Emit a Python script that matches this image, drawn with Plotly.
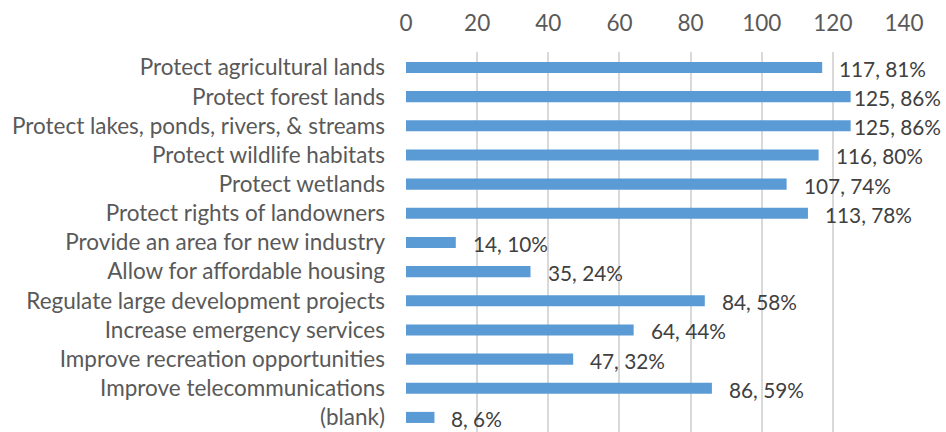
import plotly.graph_objects as go

# Survey responses: count and share of respondents for each goal
categories = [
    "Protect agricultural lands",
    "Protect forest lands",
    "Protect lakes, ponds, rivers, & streams",
    "Protect wildlife habitats",
    "Protect wetlands",
    "Protect rights of landowners",
    "Provide an area for new industry",
    "Allow for affordable housing",
    "Regulate large development projects",
    "Increase emergency services",
    "Improve recreation opportunities",
    "Improve telecommunications",
    "(blank)",
]
counts = [117, 125, 125, 116, 107, 113, 14, 35, 84, 64, 47, 86, 8]
percents = [81, 86, 86, 80, 74, 78, 10, 24, 58, 44, 32, 59, 6]
x_ticks = [0, 20, 40, 60, 80, 100, 120, 140]

FONT = "Lato, Calibri, Carlito, sans-serif"
FS = 22.5
LABEL_FS = 20.8
BAR = "#5B9BD5"
TEXT = "#595959"

W, H = 946, 432
ML, MR, MT = 406, 42, 52
X_MAX = 140
plot_w = W - ML - MR
LABEL_W = 88          # approximate rendered width of a value label, px
LABEL_GAP = 15

fig = go.Figure(
    go.Bar(
        x=counts,
        y=categories,
        orientation="h",
        marker=dict(color=BAR, line=dict(width=0)),
        hoverinfo="skip",
    )
)

# Value labels to the right of each bar; labels that would run past the
# figure edge are pulled back so they stay inside it
for c, p, cat in zip(counts, percents, categories):
    end_px = ML + c / X_MAX * plot_w
    text = f"{c}, {p}%"
    font = dict(family=FONT, size=LABEL_FS, color="#404040")
    if end_px + LABEL_GAP + LABEL_W > W - 2:
        fig.add_annotation(
            xref="paper", x=(W - 3 - ML) / plot_w, y=cat, text=text,
            xanchor="right", yanchor="middle", yshift=-1,
            showarrow=False, font=font,
        )
    else:
        fig.add_annotation(
            x=c, y=cat, text=text,
            xanchor="left", yanchor="middle", xshift=LABEL_GAP, yshift=-1,
            showarrow=False, font=font,
        )

fig.update_layout(
    width=W, height=H,
    margin=dict(l=ML, r=MR, t=MT, b=0, autoexpand=False),
    paper_bgcolor="white", plot_bgcolor="white",
    bargap=0.62,
    showlegend=False,
    font=dict(family=FONT, size=FS, color=TEXT),
)
fig.update_xaxes(
    side="top", range=[0, X_MAX], tickvals=x_ticks,
    showgrid=True, gridcolor="#D9D9D9", gridwidth=1.5,
    zeroline=False, showline=False, ticks="",
    ticklabelstandoff=16,
    tickfont=dict(family=FONT, size=FS, color=TEXT),
    automargin=False,
)
fig.update_yaxes(
    autorange="reversed", showgrid=False, zeroline=False, showline=False,
    ticks="", ticklabelstandoff=20,
    tickfont=dict(family=FONT, size=FS, color=TEXT),
    automargin=False,
)

fig.write_html("out.html")
